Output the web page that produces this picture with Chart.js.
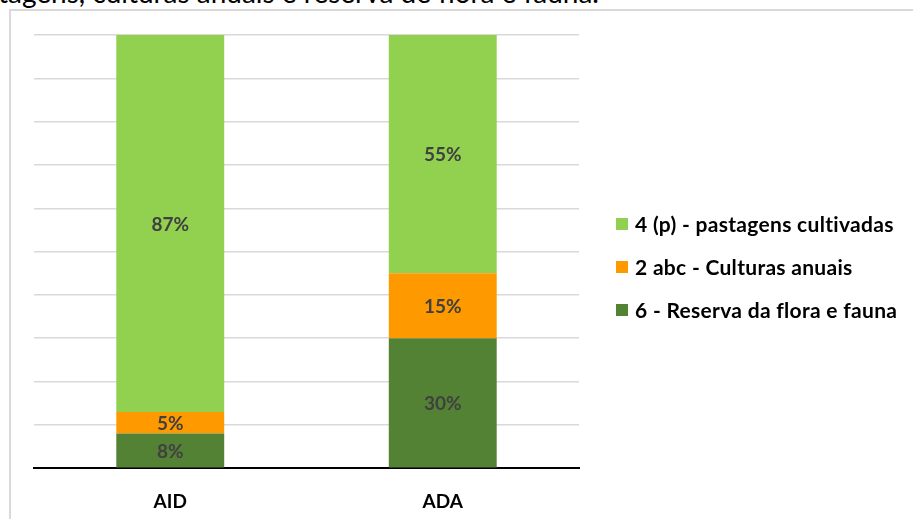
<!DOCTYPE html>
<html>
<head>
<meta charset="utf-8">
<script src="https://cdn.jsdelivr.net/npm/chart.js@4.4.1/dist/chart.umd.min.js"></script>
<style>
  html, body { margin: 0; padding: 0; background: #fff; overflow: hidden; }
  #wrap { position: relative; width: 913px; height: 519px; overflow: hidden; font-family: Lato, sans-serif; }
  #caption { position: absolute; left: -2px; top: -22px; font-size: 28px; line-height: 28px; color: #000; white-space: nowrap; }
  #frame { position: absolute; left: 9px; top: 9px; width: 920px; height: 520px;
           border-left: 2px solid #d9d9d9; border-top: 2px solid #d9d9d9; }
  #chart { position: absolute; left: 0; top: 0; }
  #legend { position: absolute; left: 616px; top: 211px; }
  .item { height: 43px; display: flex; align-items: flex-start; font-weight: bold; font-size: 21px; letter-spacing: 0.3px; color: #000; line-height: 26px; white-space: nowrap; }
  .box { width: 12px; height: 12px; margin: 7px 7px 0 0; }
</style>
</head>
<body>
<div id="wrap">
  <div id="caption">tagens, culturas anuais e reserva de flora e fauna.</div>
  <div id="frame"></div>
  <canvas id="chart" width="913" height="535"></canvas>
  <div id="legend"></div>
</div>
<script>
const categories = ['AID', 'ADA'];
const seriesNames = ['6 - Reserva da flora e fauna', '2 abc - Culturas anuais', '4 (p) - pastagens cultivadas'];
const reserva = [8, 30];
const culturas = [5, 15];
const pastagens = [87, 55];
const seriesColors = ['#548235', '#ff9900', '#92d050'];

const seriesValues = [reserva, culturas, pastagens];

// draws the percentage in the middle of each segment
const valueLabels = {
    id: 'valueLabels',
    afterDatasetsDraw(chart) {
        const c = chart.ctx;
        c.save();
        c.font = 'bold 19px Lato';
        c.fillStyle = '#404040';
        c.textAlign = 'center';
        c.textBaseline = 'middle';
        chart.data.datasets.forEach((ds, i) => {
            chart.getDatasetMeta(i).data.forEach((bar, j) => {
                c.fillText(ds.data[j] + '%', bar.x, (bar.y + bar.base) / 2 + 1);
            });
        });
        c.restore();
    }
};

let ctx = document.getElementById('chart').getContext('2d');
let chart = new Chart(ctx, {
    type: 'bar',
    data: {
        labels: categories,
        datasets: seriesNames.map((name, i) => ({
            label: name,
            data: seriesValues[i],
            backgroundColor: seriesColors[i],
            categoryPercentage: 1,
            barPercentage: 0.396
        }))
    },
    options: {
        responsive: false,
        animation: false,
        layout: {
            padding: { left: 34, right: 334, top: 35, bottom: 0 }
        },
        plugins: {
            legend: { display: false },
            tooltip: { enabled: false }
        },
        scales: {
            x: {
                stacked: true,
                grid: { display: false, drawTicks: false },
                border: { display: true, color: '#000', width: 2 },
                ticks: {
                    padding: 22,
                    color: '#000',
                    font: { family: 'Lato', weight: 'bold', size: 19 }
                }
            },
            y: {
                stacked: true,
                min: 0,
                max: 100,
                grid: { color: '#d9d9d9', lineWidth: 1.5, drawTicks: false },
                border: { display: false },
                ticks: { display: false, stepSize: 10 }
            }
        }
    },
    plugins: [valueLabels]
});

// legend, top item is the last series
let legend = document.getElementById('legend');
for (let i = seriesNames.length - 1; i >= 0; i--) {
    let item = document.createElement('div');
    item.className = 'item';
    item.innerHTML = '<div class="box" style="background:' + seriesColors[i] + '"></div>' + seriesNames[i];
    legend.appendChild(item);
}
</script>
</body>
</html>
